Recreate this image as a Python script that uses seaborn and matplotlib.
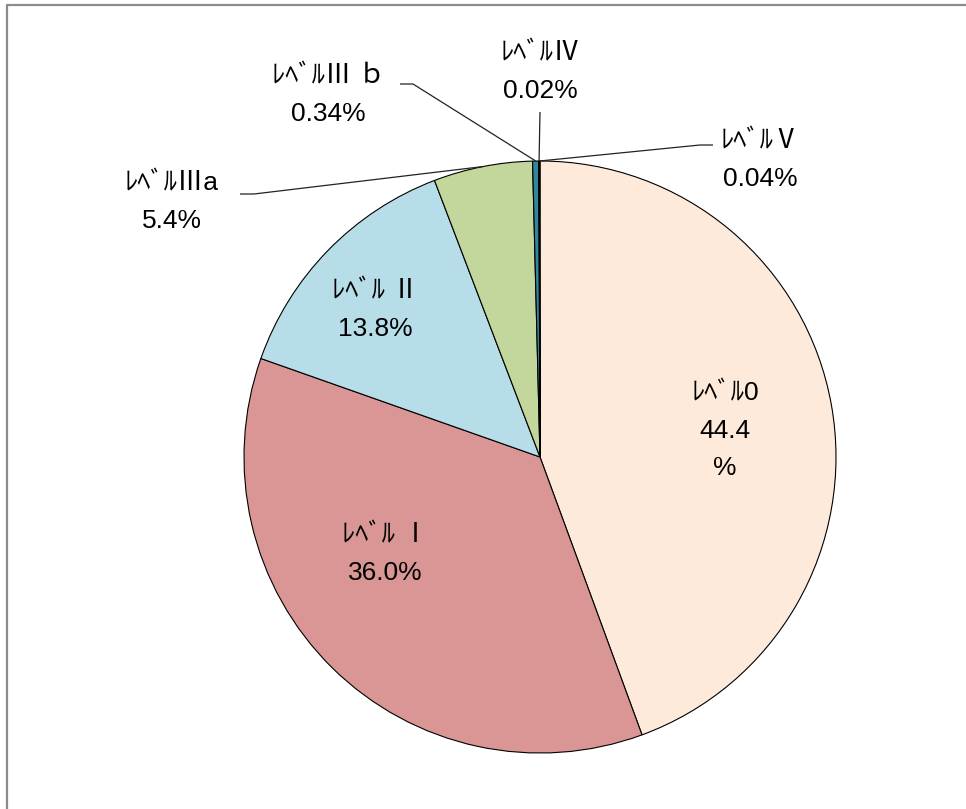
import numpy as np
import matplotlib
matplotlib.use("Agg")
import matplotlib.pyplot as plt
import seaborn as sns
from matplotlib.lines import Line2D

# data
levels = ["ﾚﾍﾞﾙ0", "ﾚﾍﾞﾙ Ⅰ", "ﾚﾍﾞﾙ Ⅱ", "ﾚﾍﾞﾙⅢa", "ﾚﾍﾞﾙⅢ ｂ", "ﾚﾍﾞﾙⅣ", "ﾚﾍﾞﾙⅤ"]
shares = [44.4, 36.0, 13.8, 5.4, 0.34, 0.02, 0.04]
share_text = ["44.4\n%", "36.0%", "13.8%", "5.4%", "0.34%", "0.02%", "0.04%"]
colors = ["#FDEADA", "#D99694", "#B7DEE8", "#C3D69B", "#31859C", "#4BACC6", "#8EB4E3"]

sns.set_theme(style="white")
plt.rcParams['font.family'] = ['Liberation Sans', 'Noto Sans CJK JP', 'DejaVu Sans']

W, H = 966, 809
fig = plt.figure(figsize=(W / 100, H / 100), dpi=100)
ax = fig.add_axes([0, 0, 1, 1])

cx, cy, R = 540, H - 457, 296
wedges, _ = ax.pie(shares, colors=colors, startangle=90, counterclock=False,
                   center=(cx, cy), radius=R, frame=True,
                   wedgeprops=dict(edgecolor="black", linewidth=0.8))
ax.set_xlim(0, W)
ax.set_ylim(0, H)
ax.axis("off")

# label positions (pixel coords, from top) and leader lines
label_pos = [(725, 431), (385, 554), (375, 310), (172, 202), (328, 95), (540, 72), (760, 160)]
leader_start = [None, None, None, (240, 194), (400, 84), (540, 112), (713, 145)]
leader_knee = [None, None, None, (254, 194), (413, 84), (540, 112), (700, 145)]

for i, (lx, ly) in enumerate(label_pos):
    txt = levels[i] + "\n" + share_text[i]
    ax.text(lx, H - ly, txt, ha="center", va="center", fontsize=19,
            linespacing=1.7, color="black")
    if leader_start[i] is not None:
        w = wedges[i]
        mid = np.deg2rad((w.theta1 + w.theta2) / 2)
        ex, ey = cx + R * np.cos(mid), cy + R * np.sin(mid)
        sx, sy = leader_start[i]
        kx, ky = leader_knee[i]
        ax.plot([sx, kx, ex], [H - sy, H - ky, ey], color="#222222", lw=0.9,
                solid_capstyle="butt")

# chart frame
frame_col = "#8C8C8C"
fig.add_artist(Line2D([7 / W, 7 / W], [0, 1 - 5 / H], color=frame_col, lw=1.6))
fig.add_artist(Line2D([7 / W, 1], [1 - 5 / H, 1 - 5 / H], color=frame_col, lw=1.6))

fig.savefig("out.png", dpi=100, facecolor="white")
